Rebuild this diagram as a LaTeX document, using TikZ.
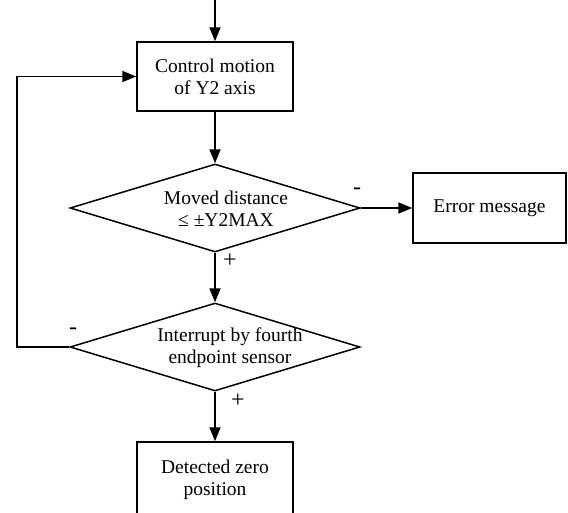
\documentclass[tikz,border=0pt]{standalone}
\usepackage{fontspec}
\setmainfont{Liberation Serif}
\usetikzlibrary{shapes.geometric,arrows.meta}
\begin{document}
\begin{tikzpicture}[x=1pt,y=-1pt,
  every node/.style={font=\fontsize{19.5}{22}\selectfont},
  procbox/.style={draw,line width=1.5pt,rectangle,inner sep=0pt,align=center},
  decide/.style={draw,line width=1.5pt,diamond,inner sep=0pt,minimum width=290pt,minimum height=88pt},
  lbl/.style={align=center,inner sep=0pt},
  conn/.style={line width=1.8pt,-{Triangle[length=14pt,width=11pt]}},
  sign/.style={inner sep=0pt,font=\fontsize{24}{24}\selectfont}]
\useasboundingbox (0,0) rectangle (568,512);
\coordinate (start) at (215,-3);
\node[procbox,minimum width=156pt,minimum height=69pt] (b1) at (215,76.5) {Control motion\\of Y2 axis};
\node[decide] (d1) at (215,208) {};
\node[lbl] (t1) at (226,209) {Moved distance\\≤ ±Y2MAX};
\node[procbox,minimum width=153pt,minimum height=70pt] (err) at (489.5,208) {Error message};
\node[decide] (d2) at (215,347) {};
\node[lbl] (t2) at (230,347.5) {Interrupt by fourth\\endpoint sensor};
\node[procbox,minimum width=156pt,minimum height=76pt] (b3) at (215,480) {Detected zero\\position};
\coordinate (c1) at (17,347);
\coordinate (c2) at (17,76.5);
\draw[conn] (start) -- (b1.north);
\draw[conn] (b1.south) -- (d1.north);
\draw[conn] (d1.east) -- (err.west);
\draw[conn] (d1.south) -- (d2.north);
\draw[conn] (d2.south) -- (b3.north);
\draw[conn] (d2.west) -- (c1) -- (c2) -- (b1.west);
\node[sign] (m1) at (357,191) {-};
\node[sign] (p1) at (230,261) {+};
\node[sign] (m2) at (73,331) {-};
\node[sign] (p2) at (238,401) {+};
\end{tikzpicture}
\end{document}
